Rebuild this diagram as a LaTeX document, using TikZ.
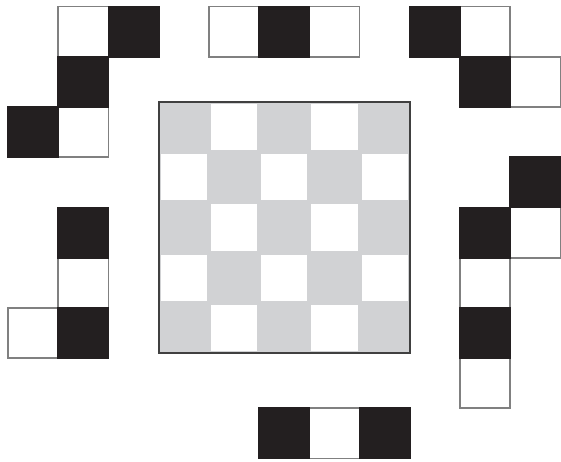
\documentclass[tikz,border=0pt]{standalone}
\usepackage{tikz}

\definecolor{inkblack}{HTML}{231F20}
\definecolor{boardgray}{HTML}{D1D2D4}

\begin{document}
\begin{tikzpicture}[x=1cm,y=1cm,
    wcell/.style={fill=white,draw=black!50,line width=1pt},
    bcell/.style={fill=inkblack,draw=inkblack,line width=1pt}]

  \useasboundingbox (-0.16,-0.05) rectangle (11.01,9.13);

  % --- Central 5x5 board (gray and white checkers) ---
  \def\bx{3} \def\by{2.1}
  \fill[boardgray] (\bx,\by) rectangle ++(5,5);
  \foreach \i in {0,...,4} {
    \foreach \j in {0,...,4} {
      \pgfmathtruncatemacro\odd{mod(\i+\j,2)}
      \ifnum\odd=1
        \fill[white] ({\bx+\i+0.04},{\by+\j+0.04}) rectangle ++(0.92,0.92);
      \fi
    }
  }
  \draw[black!75,line width=1.3pt] (\bx,\by) rectangle ++(5,5);

  % --- Pieces around the board: white cells first, black cells on top ---
  \foreach \x/\y in {1/8, 1/6,  4/8, 6/8,  9/8, 10/7,
                     1/3, 0/2,  10/4, 9/3, 9/1,  6/0} {
    \draw[wcell] (\x,\y) rectangle ++(1,1);
  }
  \foreach \x/\y in {2/8, 1/7, 0/6,  5/8,  8/8, 9/7,
                     1/4, 1/2,  10/5, 9/4, 9/2,  5/0, 7/0} {
    \draw[bcell] (\x,\y) rectangle ++(1,1);
  }

\end{tikzpicture}
\end{document}
